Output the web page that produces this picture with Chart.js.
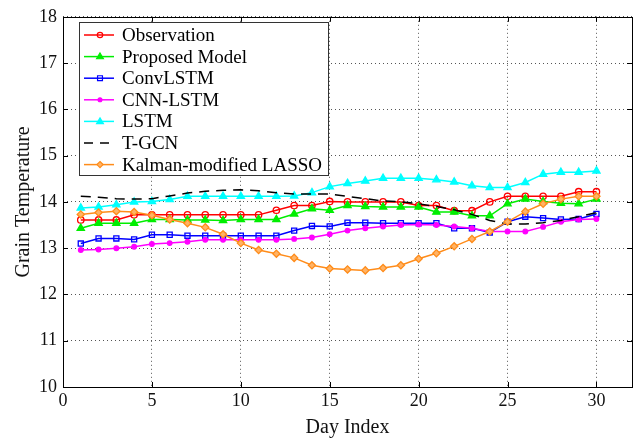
<!DOCTYPE html>
<html>
<head>
<meta charset="utf-8">
<script src="https://cdn.jsdelivr.net/npm/chart.js@4.4.1/dist/chart.umd.min.js"></script>
<style>
  html, body { margin: 0; padding: 0; background: #fff; }
  #wrap { width: 640px; height: 443px; }
</style>
</head>
<body>
<div id="wrap"><canvas id="c" width="640" height="443"></canvas></div>
<script>
const days = [1,2,3,4,5,6,7,8,9,10,11,12,13,14,15,16,17,18,19,20,21,22,23,24,25,26,27,28,29,30];
const xTickValues = [0,5,10,15,20,25,30];
const yTickValues = [10,11,12,13,14,15,16,17,18];

const observation = [13.61,13.61,13.61,13.72,13.72,13.72,13.72,13.72,13.72,13.72,13.72,13.82,13.92,13.92,14.01,14.0,14.0,14.0,14.0,13.92,13.92,13.81,13.81,14.0,14.12,14.12,14.12,14.12,14.22,14.22];
const proposed = [13.43,13.54,13.54,13.54,13.62,13.62,13.61,13.61,13.6,13.62,13.62,13.62,13.74,13.85,13.82,13.92,13.9,13.89,13.89,13.89,13.78,13.78,13.7,13.7,13.96,14.06,14.01,13.97,13.96,14.06];
const convLSTM = [13.1,13.21,13.21,13.19,13.29,13.29,13.27,13.27,13.27,13.27,13.27,13.27,13.38,13.48,13.47,13.55,13.55,13.54,13.54,13.54,13.54,13.43,13.43,13.34,13.57,13.68,13.65,13.62,13.63,13.74];
const cnnLSTM = [12.96,12.97,13.0,13.03,13.09,13.11,13.14,13.18,13.18,13.18,13.18,13.18,13.2,13.23,13.3,13.38,13.43,13.47,13.5,13.51,13.5,13.47,13.43,13.36,13.36,13.36,13.46,13.57,13.62,13.63];
const lstm = [13.87,13.89,13.94,14.0,14.01,14.05,14.12,14.12,14.12,14.12,14.12,14.12,14.13,14.2,14.33,14.4,14.45,14.51,14.51,14.51,14.48,14.43,14.35,14.31,14.31,14.42,14.6,14.64,14.64,14.67];
const tgcn = [14.12,14.1,14.07,14.06,14.07,14.13,14.19,14.23,14.25,14.26,14.24,14.2,14.17,14.17,14.17,14.12,14.07,14.02,14.0,13.96,13.9,13.83,13.73,13.6,13.52,13.52,13.55,13.6,13.68,13.77];
const kalman = [13.73,13.77,13.8,13.78,13.71,13.62,13.54,13.45,13.3,13.11,12.96,12.88,12.79,12.63,12.56,12.54,12.52,12.57,12.63,12.77,12.89,13.04,13.2,13.36,13.57,13.79,13.96,14.06,14.12,14.12];

const seriesNames = ['Observation','Proposed Model','ConvLSTM','CNN-LSTM','LSTM','T-GCN','Kalman-modified LASSO'];
const seriesValues = [observation, proposed, convLSTM, cnnLSTM, lstm, tgcn, kalman];

const FONT = '"Liberation Serif", "Times New Roman", serif';

const styles = [
  {color:'#ff0000', point:'circle', r:3.2, fill:'rgba(0,0,0,0)'},
  {color:'#00ee00', point:'triangle', r:4.2, fill:'#00ee00'},
  {color:'#0000ff', point:'rect', r:3.6, fill:'rgba(0,0,0,0)'},
  {color:'#ff00ff', point:'circle', r:2.3, fill:'#ff00ff'},
  {color:'#00ffff', point:'triangle', r:4.2, fill:'#00ffff'},
  {color:'#000000', point:false, r:0, fill:'#000', dash:[10,7]},
  {color:'#ff8c1a', point:'rectRot', r:3.6, fill:'#ffb366'}
];

const datasets = seriesNames.map((name, i) => ({
  label: name,
  data: days.map((d, j) => ({x: d, y: seriesValues[i][j]})),
  borderColor: styles[i].color,
  backgroundColor: styles[i].fill,
  borderWidth: 1.5,
  borderDash: styles[i].dash || [],
  pointStyle: styles[i].point,
  pointRadius: styles[i].r,
  pointBorderColor: styles[i].color,
  pointBackgroundColor: styles[i].fill,
  pointBorderWidth: 1.3,
  tension: 0,
  fill: false,
  order: 7 - i
}));

function drawMarker(ctx, st, x, y) {
  if (!st.point) return;
  ctx.save();
  ctx.strokeStyle = st.color;
  ctx.fillStyle = st.fill;
  ctx.lineWidth = 1.2;
  ctx.setLineDash([]);
  const r = st.r * 0.85;
  ctx.beginPath();
  if (st.point === 'circle') {
    ctx.arc(x, y, r, 0, Math.PI * 2);
  } else if (st.point === 'triangle') {
    ctx.moveTo(x, y - r);
    ctx.lineTo(x + r * 0.95, y + r * 0.6);
    ctx.lineTo(x - r * 0.95, y + r * 0.6);
    ctx.closePath();
  } else if (st.point === 'rect') {
    ctx.rect(x - r * 0.8, y - r * 0.8, r * 1.6, r * 1.6);
  } else if (st.point === 'rectRot') {
    ctx.moveTo(x, y - r); ctx.lineTo(x + r, y); ctx.lineTo(x, y + r); ctx.lineTo(x - r, y); ctx.closePath();
  }
  ctx.fill();
  ctx.stroke();
  ctx.restore();
}

const framePlugin = {
  id: 'frame',
  afterDatasetsDraw(chart) {
    const {ctx, chartArea: a, scales} = chart;
    ctx.save();
    ctx.strokeStyle = '#000';
    ctx.lineWidth = 1;
    ctx.setLineDash([]);
    ctx.strokeRect(Math.round(a.left) + 0.5, Math.round(a.top) + 0.5, Math.round(a.right - a.left), Math.round(a.bottom - a.top));
    ctx.beginPath();
    xTickValues.forEach(v => {
      const px = Math.round(scales.x.getPixelForValue(v)) + 0.5;
      ctx.moveTo(px, a.bottom); ctx.lineTo(px, a.bottom - 5);
      ctx.moveTo(px, a.top); ctx.lineTo(px, a.top + 5);
    });
    yTickValues.forEach(v => {
      const py = Math.round(scales.y.getPixelForValue(v)) + 0.5;
      ctx.moveTo(a.left, py); ctx.lineTo(a.left + 5, py);
      ctx.moveTo(a.right, py); ctx.lineTo(a.right - 5, py);
    });
    ctx.stroke();

    // legend
    const lx = 79.5, ly = 22.5, lw = 249, lh = 153;
    ctx.fillStyle = '#fff';
    ctx.fillRect(lx, ly, lw, lh);
    ctx.strokeStyle = '#333';
    ctx.lineWidth = 1;
    ctx.strokeRect(lx, ly, lw, lh);
    ctx.font = '19px ' + FONT;
    ctx.textBaseline = 'middle';
    ctx.textAlign = 'left';
    seriesNames.forEach((name, i) => {
      const y = 35 + i * 21.6;
      const st = styles[i];
      ctx.save();
      ctx.strokeStyle = st.color;
      ctx.lineWidth = 1.5;
      ctx.setLineDash(st.dash ? [9, 7] : []);
      ctx.beginPath();
      ctx.moveTo(84, y); ctx.lineTo(114, y);
      ctx.stroke();
      ctx.restore();
      drawMarker(ctx, st, 100, y);
      ctx.fillStyle = '#000';
      ctx.fillText(name, 122, y + 1);
    });
    ctx.restore();
  }
};

new Chart(document.getElementById('c'), {
  type: 'line',
  data: { datasets },
  options: {
    responsive: false,
    animation: false,
    devicePixelRatio: 1,
    layout: { padding: { top: 11, right: 8, left: 0, bottom: 0 } },
    plugins: { legend: { display: false }, tooltip: { enabled: false } },
    scales: {
      x: {
        type: 'linear',
        min: 0, max: 32,
        afterBuildTicks: s => { s.ticks = xTickValues.map(v => ({value: v})); },
        afterFit: s => { s.height = 56; },
        grid: { color: '#555', lineWidth: 1, drawTicks: false },
        border: { display: false, dash: [1, 3] },
        ticks: { color: '#111', padding: 3, font: { family: FONT, size: 18 }, maxRotation: 0, autoSkip: false },
        title: { display: true, text: 'Day Index', color: '#111', font: { family: FONT, size: 20 }, padding: { top: 0, bottom: 3 } }
      },
      y: {
        type: 'linear',
        min: 10, max: 18,
        afterBuildTicks: s => { s.ticks = yTickValues.map(v => ({value: v})); },
        afterFit: s => { s.width = 63; },
        grid: { color: '#555', lineWidth: 1, drawTicks: false },
        border: { display: false, dash: [1, 3] },
        ticks: { color: '#111', padding: 6, font: { family: FONT, size: 18 } },
        title: { display: true, text: 'Grain Temperature', color: '#111', font: { family: FONT, size: 20 }, padding: { top: 12, bottom: 0 } }
      }
    }
  },
  plugins: [framePlugin]
});
</script>
</body>
</html>
